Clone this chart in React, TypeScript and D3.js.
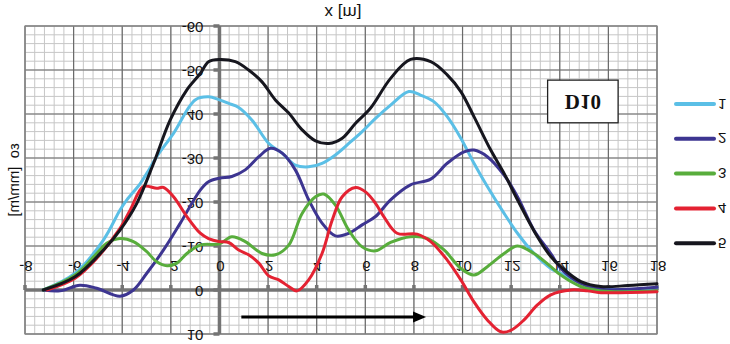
import React from "react";
import * as d3 from "d3";

// ---- data (the picture is vertically mirrored) ----
const seriesNames = ["1", "2", "3", "4", "5"];
const seriesColors = ["#5bbfe6", "#3d3591", "#58ad3c", "#e42232", "#16161e"];

const s1x = [-7.25, -5.94, -4.77, -4.09, -3.81, -3.26, -2.99, -2.58, -1.89, -1.0, -0.45, 0, 0.38, 0.79, 1.34, 2.03, 2.58, 3.12, 3.67, 4.22, 4.77, 5.32, 5.87, 6.42, 7.04, 7.79, 8.27, 8.82, 9.37, 9.93, 10.47, 11.02, 11.71, 12.26, 12.81, 13.63, 14.04, 14.87, 15.69, 17.07, 18.0];
const s1y = [0, -3.8, -11.4, -18.2, -20.5, -24.2, -26.5, -30.3, -35.6, -43.2, -43.9, -43.2, -42.4, -41.5, -38.6, -33.3, -31.1, -28.4, -28, -28.8, -30.7, -33.3, -36, -39, -42, -45.1, -44.3, -42.8, -39.4, -34.5, -28.8, -23.5, -17.4, -12.9, -9.1, -4.9, -3.8, -1.5, -0.4, 0, -0.6];

const s2x = [-7.25, -6.56, -5.74, -5.05, -4.09, -3.54, -2.99, -2.3, -1.61, -0.79, -0.45, 0, 0.51, 1.06, 1.62, 2.1, 2.58, 3.12, 3.67, 4.22, 4.77, 5.32, 5.87, 6.42, 7.04, 7.86, 8.69, 9.37, 10.06, 10.47, 11.02, 11.71, 12.26, 12.94, 13.63, 14.04, 14.87, 15.69, 18];
const s2y = [0, 0.2, -1.1, -0.4, 1.4, 0, -3.8, -9.1, -15.2, -22.7, -24.6, -25.4, -25.8, -27.3, -30.3, -32.2, -31.1, -27.3, -20.5, -15.2, -12.3, -12.9, -14.8, -16.7, -20.5, -23.9, -25.2, -28.8, -31.4, -31.8, -30.3, -26.1, -21.2, -13.6, -8.3, -4.9, -1.5, -0.2, -0.6];

const s3x = [-7.25, -5.94, -5.05, -4.64, -4.09, -3.54, -2.99, -2.58, -2.16, -1.75, -1.34, -0.79, 0, 0.51, 1.06, 1.75, 2.3, 2.85, 3.4, 3.95, 4.29, 4.77, 5.32, 5.87, 6.42, 7.04, 7.86, 8.55, 9.24, 9.93, 10.47, 11.02, 11.71, 12.26, 12.94, 13.63, 14.04, 14.87, 15.69, 18];
const s3y = [0, -3.4, -8.3, -10.6, -11.7, -11, -8.7, -6.4, -5.5, -6.1, -8.3, -10.2, -10.5, -12.1, -11, -8.3, -8, -10.2, -17.4, -21.2, -21.8, -19.3, -13.6, -9.8, -8.9, -10.8, -12.1, -11.7, -9.1, -4.9, -3.4, -5.3, -8.3, -10, -8.3, -5.3, -3.4, -0.8, 0.2, 0.2];

const s4x = [-7.1, -5.94, -5.05, -4.09, -3.67, -3.13, -2.58, -2.3, -1.89, -1.34, -0.79, -0.45, 0, 0.38, 0.79, 1.2, 1.62, 2.03, 2.44, 2.85, 3.19, 3.67, 4.22, 4.64, 5.05, 5.6, 6.01, 6.42, 6.76, 7.31, 8.13, 8.69, 9.37, 9.93, 10.47, 11.02, 11.57, 11.98, 12.53, 13.08, 13.63, 14.46, 15.14, 15.69, 18];
const s4y = [0, -2.7, -7.2, -14, -18.2, -23.5, -23.1, -23.3, -21.2, -16.7, -12.9, -11.7, -11, -10.8, -9.1, -8, -6.1, -3.2, -2.3, -0.8, 0.2, -2.3, -8.3, -15.9, -21.2, -23.3, -22.3, -19.7, -16.7, -12.9, -12.7, -11, -6.8, -2.3, 2.7, 6.8, 9.5, 9.2, 6.8, 3.4, 1.1, 0, 0.2, 0.6, 0.4];

const s5x = [-7.25, -5.94, -4.77, -4.09, -3.4, -2.71, -2.03, -1.34, -0.79, -0.45, 0, 0.65, 1.2, 1.75, 2.3, 2.85, 3.4, 3.95, 4.5, 5.05, 5.6, 6.21, 7.04, 7.86, 8.69, 9.37, 9.93, 10.47, 11.16, 11.71, 12.26, 13.08, 13.63, 14.04, 14.87, 15.69, 16.8, 18];
const s5y = [0, -3, -9.1, -13.6, -19.7, -28.8, -38.6, -45.5, -49.2, -51.9, -52.4, -51.9, -50, -47.3, -43.2, -40.2, -36.4, -33.9, -33.3, -34.5, -37.9, -41.3, -48.1, -52.4, -51.9, -48.9, -45.1, -39.4, -31.8, -26.5, -20.5, -12.1, -7.6, -5.3, -1.9, -0.8, -1, -1.4];

const xTickLabels = [-8, -6, -4, -2, 0, 2, 4, 6, 8, 10, 12, 14, 16, 18];
const yTickLabels = [-60, -50, -40, -30, -20, -10, 0, 10];
const xTitle = "x [m]";
const yTitle = "\u03B5o\u00A0\u00A0[mm/m]";
const boxLabel = "D10";
const arrowFrom = [0.9, 6.15];
const arrowTo = [8.5, 6.15];
const boxCorner1 = [13.5, -47.7];
const boxCorner2 = [16.4, -38.0];

const W = 730;
const H = 344;
const SANS = "'Liberation Sans', Arial, sans-serif";

// text that is mirrored vertically around its own anchor point
function FT({ x, y, children, anchor = "middle", size = 15, weight = "normal", family = SANS, extra = "" }) {
  return (
    <text
      transform={`translate(${x},${y}) scale(1,-1) ${extra}`}
      textAnchor={anchor}
      dominantBaseline="central"
      fontSize={size}
      fontWeight={weight}
      fontFamily={family}
      fill="#111"
      style={{ whiteSpace: "pre" }}
    >
      {children}
    </text>
  );
}

export default function App() {
  const x = d3.scaleLinear().domain([-8, 18]).range([25, 657]);
  const y = d3.scaleLinear().domain([-60, 10]).range([26, 334]);

  const allX = [s1x, s2x, s3x, s4x, s5x];
  const allY = [s1y, s2y, s3y, s4y, s5y];

  const line = d3
    .line()
    .x((d) => x(d[0]))
    .y((d) => y(d[1]))
    .curve(d3.curveCatmullRom.alpha(0.5));

  const minorX = d3.range(-8, 18.001, 0.4);
  const minorY = d3.range(-60, 10.001, 2);
  const majorX = xTickLabels;
  const majorY = yTickLabels;

  const [x0, x1] = x.range();
  const [y0, y1] = y.range();

  return (
    <svg
      width={W}
      height={H}
      style={{ position: "absolute", left: 0, top: 0, background: "#fff" }}
    >
      <rect x={0} y={0} width={W} height={H} fill="#fff" />
      {/* minor grid */}
      <g stroke="#c6c6c6" strokeWidth={1}>
        {minorX.map((v, i) => (
          <line key={"mx" + i} x1={x(v)} x2={x(v)} y1={y0} y2={y1} />
        ))}
        {minorY.map((v, i) => (
          <line key={"my" + i} x1={x0} x2={x1} y1={y(v)} y2={y(v)} />
        ))}
      </g>
      {/* major grid */}
      <g stroke="#6a6a6a" strokeWidth={1.2}>
        {majorX.map((v, i) => (
          <line key={"Mx" + i} x1={x(v)} x2={x(v)} y1={y0} y2={y1} />
        ))}
        {majorY.map((v, i) => (
          <line key={"My" + i} x1={x0} x2={x1} y1={y(v)} y2={y(v)} />
        ))}
      </g>
      <rect x={x0} y={y0} width={x1 - x0} height={y1 - y0} fill="none" stroke="#888" strokeWidth={1.2} />

      {/* axes */}
      <line x1={x0} x2={x1} y1={y(0)} y2={y(0)} stroke="#747474" strokeWidth={3.5} />
      <line x1={x(0)} x2={x(0)} y1={y0} y2={y1} stroke="#747474" strokeWidth={3.5} />
      <g stroke="#747474" strokeWidth={3.5}>
        {xTickLabels.map((v, i) => (
          <line key={"xt" + i} x1={x(v)} x2={x(v)} y1={y(0)} y2={y(0) - 5} />
        ))}
        {yTickLabels.map((v, i) => (
          <line key={"yt" + i} x1={x(0)} x2={x(0) - 6} y1={y(v)} y2={y(v)} />
        ))}
      </g>

      {/* tick labels */}
      {xTickLabels.map((v, i) => (
        <FT key={"xl" + i} x={x(v) + 1} y={y(0) - 24} size={15}>
          {String(v)}
        </FT>
      ))}
      {yTickLabels.map((v, i) => (
        <FT key={"yl" + i} x={x(0) - 16} y={y(v) + 1} anchor="end" size={15}>
          {String(v)}
        </FT>
      ))}

      {/* series */}
      {allX.map((xs, si) => (
        <path
          key={"s" + si}
          d={line(xs.map((xv, j) => [xv, allY[si][j]]))}
          fill="none"
          stroke={seriesColors[si]}
          strokeWidth={3}
          strokeLinejoin="round"
          strokeLinecap="round"
        />
      ))}

      {/* arrow */}
      <line
        x1={x(arrowFrom[0])}
        x2={x(arrowTo[0]) - 10}
        y1={y(arrowFrom[1])}
        y2={y(arrowTo[1])}
        stroke="#000"
        strokeWidth={3}
      />
      <path
        d={`M${x(arrowTo[0])},${y(arrowTo[1])} L${x(arrowTo[0]) - 13},${y(arrowTo[1]) - 5.5} L${x(arrowTo[0]) - 13},${y(arrowTo[1]) + 5.5} Z`}
        fill="#000"
      />

      {/* D10 box */}
      <rect
        x={x(boxCorner1[0])}
        y={y(boxCorner1[1])}
        width={x(boxCorner2[0]) - x(boxCorner1[0])}
        height={y(boxCorner2[1]) - y(boxCorner1[1])}
        fill="#fff"
        stroke="#222"
        strokeWidth={1.3}
      />
      <FT
        x={(x(boxCorner1[0]) + x(boxCorner2[0])) / 2}
        y={(y(boxCorner1[1]) + y(boxCorner2[1])) / 2 + 1}
        size={21}
        weight="bold"
        family="'Liberation Serif', 'Times New Roman', serif"
      >
        {boxLabel}
      </FT>

      {/* legend */}
      {seriesNames.map((n, i) => (
        <g key={"lg" + i}>
          <line
            x1={676}
            x2={714}
            y1={104 + i * 34.8}
            y2={104 + i * 34.8}
            stroke={seriesColors[i]}
            strokeWidth={4}
            strokeLinecap="round"
          />
          <FT x={718} y={104 + i * 34.8} anchor="start" size={15}>
            {n}
          </FT>
        </g>
      ))}

      {/* titles */}
      <FT x={343} y={12} size={17}>
        {xTitle}
      </FT>
      <FT x={13} y={180} size={15} extra="rotate(-90)">
        {yTitle}
      </FT>
    </svg>
  );
}
